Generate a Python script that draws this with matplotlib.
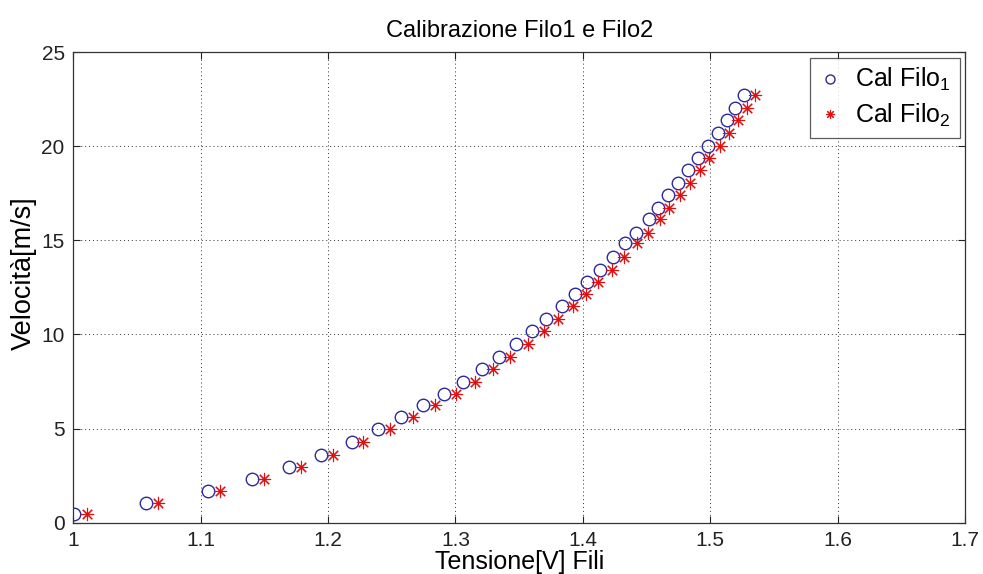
import matplotlib
matplotlib.use("Agg")
import matplotlib.pyplot as plt

plt.rcParams['font.family'] = ['Liberation Sans', 'DejaVu Sans']
plt.rcParams['mathtext.default'] = 'regular'

velocita = [0.45, 1.03, 1.69, 2.32, 2.95, 3.58, 4.28, 4.95, 5.59, 6.26, 6.85, 7.48,
            8.16, 8.81, 9.49, 10.16, 10.80, 11.49, 12.16, 12.80, 13.40, 14.10, 14.84,
            15.41, 16.12, 16.70, 17.38, 18.03, 18.71, 19.35, 20.02, 20.71, 21.38, 22.01, 22.70]
tensione_filo1 = [1.001, 1.0573, 1.1059, 1.1406, 1.1691, 1.1945, 1.2186, 1.2392, 1.2570,
                  1.2747, 1.2912, 1.3061, 1.3206, 1.3341, 1.3475, 1.3602, 1.3710, 1.3835,
                  1.3937, 1.4029, 1.4131, 1.4233, 1.4327, 1.4413, 1.4515, 1.4586, 1.4669,
                  1.4748, 1.4824, 1.4902, 1.4980, 1.5056, 1.5127, 1.5197, 1.5263]
tensione_filo2 = [1.0107, 1.0669, 1.1153, 1.1498, 1.1786, 1.2040, 1.2277, 1.2484, 1.2664,
                  1.2842, 1.3006, 1.3155, 1.3294, 1.3427, 1.3566, 1.3694, 1.3806, 1.3924,
                  1.4021, 1.4120, 1.4225, 1.4324, 1.4424, 1.4507, 1.4604, 1.4675, 1.4758,
                  1.4839, 1.4915, 1.4990, 1.5072, 1.5145, 1.5216, 1.5289, 1.5351]
xticks = [1, 1.1, 1.2, 1.3, 1.4, 1.5, 1.6, 1.7]
xticklabels = ['1', '1.1', '1.2', '1.3', '1.4', '1.5', '1.6', '1.7']
yticks = [0, 5, 10, 15, 20, 25]

fig = plt.figure(figsize=(9.83, 5.74), dpi=100)
ax = fig.add_axes([0.0743, 0.0894, 0.9077, 0.82])

ax.plot(tensione_filo1, velocita, linestyle='none', marker='o', markersize=9,
        markerfacecolor='none', markeredgecolor='#2a2aa0', markeredgewidth=1.0,
        label='Cal Filo$_1$')
ax.plot(tensione_filo2, velocita, linestyle='none', marker=(8, 2, 0), markersize=9.5,
        color='#e01010', markeredgewidth=0.8, label='Cal Filo$_2$')

ax.set_xlim(1, 1.7)
ax.set_ylim(0, 25)
ax.set_xticks(xticks)
ax.set_xticklabels(xticklabels)
ax.set_yticks(yticks)
ax.tick_params(direction='in', length=5, width=0.8, labelsize=15, top=True, right=True,
               colors='#222222', pad=6)
ax.grid(True, linestyle=(0, (1, 3)), color='#333333', linewidth=0.7)
for s in ax.spines.values():
    s.set_color('#333333')
    s.set_linewidth(0.9)

ax.set_title('Calibrazione Filo1 e Filo2', fontsize=17, pad=11)
ax.set_xlabel('Tensione[V] Fili', fontsize=18, labelpad=0)
ax.set_ylabel('Velocità[m/s]', fontsize=19.5, labelpad=3)
ax.yaxis.set_label_coords(-0.041, 0.53)

leg = ax.legend(loc='upper right', fontsize=18, frameon=True, fancybox=False,
                edgecolor='#333333', borderaxespad=0.22, handletextpad=0.55,
                handlelength=0.9, borderpad=0.35, labelspacing=0.35)
leg.get_frame().set_linewidth(0.9)
for h in leg.legend_handles:
    h.set_markersize(6.5)

fig.savefig('out.png', dpi=100)
